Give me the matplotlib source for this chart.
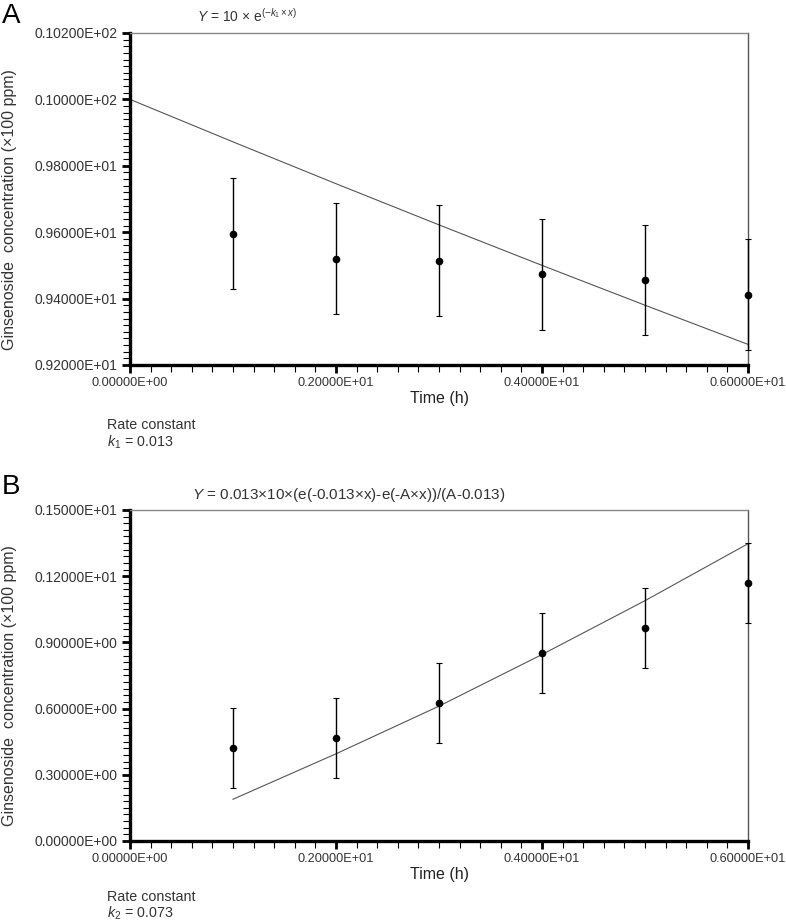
import matplotlib
matplotlib.use('Agg')
import matplotlib.pyplot as plt
import numpy as np
from matplotlib.ticker import MultipleLocator, FuncFormatter

plt.rcParams['font.family'] = ['Liberation Sans', 'DejaVu Sans']
plt.rcParams['mathtext.fontset'] = 'custom'
plt.rcParams['mathtext.rm'] = 'Liberation Sans'
plt.rcParams['mathtext.it'] = 'Liberation Sans:italic'

# panel A: ginsenoside decay
time_a = [1, 2, 3, 4, 5, 6]
conc_a = [9.595, 9.520, 9.514, 9.473, 9.456, 9.412]
err_a = [0.167, 0.167, 0.167, 0.167, 0.167, 0.167]
fit_time_a = [0, 1, 2, 3, 4, 5, 6]
fit_conc_a = [10.0, 9.872, 9.746, 9.622, 9.500, 9.380, 9.262]

# panel B: formation
time_b = [1, 2, 3, 4, 5, 6]
conc_b = [0.422, 0.467, 0.626, 0.852, 0.966, 1.170]
err_b = [0.180, 0.182, 0.181, 0.180, 0.180, 0.180]
fit_time_b = [1, 2, 3, 4, 5, 6]
fit_conc_b = [0.189, 0.395, 0.611, 0.845, 1.089, 1.347]


def sci_fmt(v, pos):
    # Fortran-like 0.xxxxxE+yy labels
    if abs(v) < 1e-12:
        return '0.00000E+00'
    e = int(np.floor(np.log10(abs(v)))) + 1
    m = v / 10 ** e
    return f'{m:.5f}E{e:+03d}'


def style_axes(ax, ylim, ymajor, yminor):
    ax.set_xlim(0, 6)
    ax.set_ylim(*ylim)
    ax.xaxis.set_major_locator(MultipleLocator(2))
    ax.xaxis.set_minor_locator(MultipleLocator(0.2))
    ax.yaxis.set_major_locator(MultipleLocator(ymajor))
    ax.yaxis.set_minor_locator(MultipleLocator(yminor))
    ax.xaxis.set_major_formatter(FuncFormatter(sci_fmt))
    ax.yaxis.set_major_formatter(FuncFormatter(sci_fmt))
    for s in ['left', 'bottom']:
        ax.spines[s].set_linewidth(2.4)
        ax.spines[s].set_color('black')
    ax.spines['top'].set_linewidth(1.0)
    ax.spines['top'].set_color('#888888')
    ax.spines['right'].set_linewidth(1.0)
    ax.spines['right'].set_color('#555555')
    ax.tick_params(which='major', direction='out', length=6, width=2,
                   labelcolor='#333333', pad=3)
    ax.tick_params(axis='y', which='major', labelsize=10)
    ax.tick_params(axis='x', which='major', labelsize=9.2)
    ax.tick_params(which='minor', direction='out', length=5, width=0.8)
    ax.set_xlabel('Time (h)', fontsize=11.5, color='#222222', labelpad=1)


fig = plt.figure(figsize=(7.86, 9.21), dpi=100)

ax1 = fig.add_axes([0.1654, 0.6037, 0.7863, 0.3605])
ax1.plot(fit_time_a, fit_conc_a, color='#555555', lw=0.8, zorder=2)
ax1.errorbar(time_a, conc_a, yerr=err_a, fmt='o', color='black', ms=4.5,
             ecolor='black', elinewidth=1, capsize=2, capthick=0.8,
             clip_on=False, zorder=3)
style_axes(ax1, (9.2, 10.2), 0.2, 0.02)

ax2 = fig.add_axes([0.1654, 0.0869, 0.7863, 0.3594])
ax2.plot(fit_time_b, fit_conc_b, color='#555555', lw=0.8, zorder=2)
ax2.errorbar(time_b, conc_b, yerr=err_b, fmt='o', color='black', ms=4.5,
             ecolor='black', elinewidth=1, capsize=2, capthick=0.8,
             clip_on=False, zorder=3)
style_axes(ax2, (0, 1.5), 0.3, 0.03)

ylab = 'Ginsenoside  concentration (×100 ppm)'
fig.text(10 / 786, 1 - 210 / 921, ylab, rotation=90, ha='center', va='center',
         fontsize=11.5, color='#333333')
fig.text(10 / 786, 1 - 686 / 921, ylab, rotation=90, ha='center', va='center',
         fontsize=11.5, color='#333333')

# panel letters
fig.text(2 / 786, 1 - 16 / 921, 'A', fontsize=20, ha='left', va='center')
fig.text(2 / 786, 1 - 487 / 921, 'B', fontsize=20, ha='left', va='center')

# equations
fig.text(197 / 786, 1 - 16 / 921, r'$Y$ = 10 × e$^{(-k_1\times x)}$',
         fontsize=10, color='#333333', ha='left', va='center')
fig.text(192 / 786, 1 - 495 / 921,
         r'$Y$ = 0.013×10×(e(-0.013×x)-e(-A×x))/(A-0.013)',
         fontsize=11, color='#333333', ha='left', va='center')

# rate constants
fig.text(107 / 786, 1 - 425 / 921, 'Rate constant', fontsize=10.3,
         color='#333333', ha='left', va='center')
fig.text(107 / 786, 1 - 442 / 921, r'$k_1$ = 0.013', fontsize=10.3,
         color='#333333', ha='left', va='center')
fig.text(107 / 786, 1 - 897 / 921, 'Rate constant', fontsize=10.3,
         color='#333333', ha='left', va='center')
fig.text(107 / 786, 1 - 913 / 921, r'$k_2$ = 0.073', fontsize=10.3,
         color='#333333', ha='left', va='center')

fig.savefig('out.png', dpi=100)
